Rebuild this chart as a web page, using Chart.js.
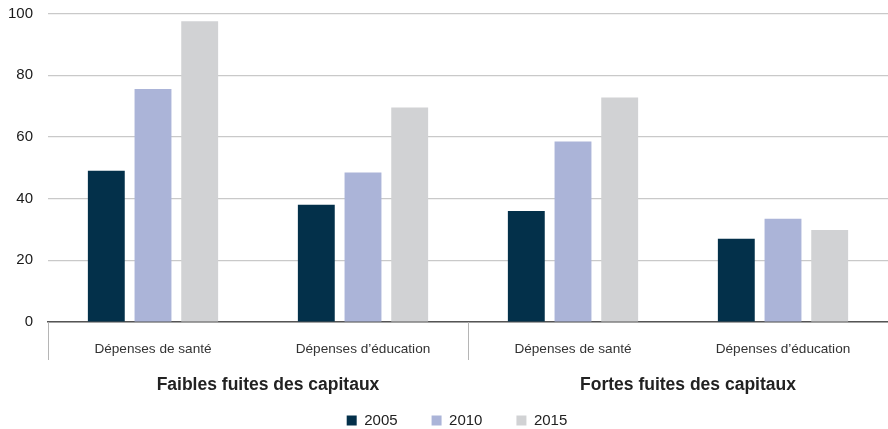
<!DOCTYPE html>
<html>
<head>
<meta charset="utf-8">
<script src="https://cdn.jsdelivr.net/npm/chart.js@4"></script>
<style>
    html, body { margin: 0; padding: 0; background: #fff; }
    #wrap { width: 888px; height: 429px; }
</style>
</head>
<body>
<div id="wrap"><canvas id="flightChart"></canvas></div>
<script>
const categories = ['Dépenses de santé', 'Dépenses d\u2019éducation', 'Dépenses de santé', 'Dépenses d\u2019éducation'];
const groups = ['Faibles fuites des capitaux', 'Fortes fuites des capitaux'];
const years = ['2005', '2010', '2015'];
const values2005 = [49, 38, 36, 27];
const values2010 = [75.5, 48.5, 58.5, 33.5];
const values2015 = [97.5, 69.5, 72.8, 29.8];
const yTicks = [0, 20, 40, 60, 80, 100];

const FONT = "'Liberation Sans', Arial, sans-serif";

// draws the group row under the category labels + the vertical separators
const groupAxis = {
    id: 'groupAxis',
    afterLayout(chart) {
        // legend sits a bit right of the canvas centre and lower than default
        const lg = chart.legend;
        lg.left += 13; lg.right += 13;
        lg.top += 9; lg.bottom += 9;
    },
    afterDraw(chart) {
        const ctx = chart.ctx;
        const x = chart.scales.x;
        const bottom = chart.chartArea.bottom;
        const half = (x.getPixelForValue(1) - x.getPixelForValue(0)) / 2;
        const per = categories.length / groups.length;

        ctx.save();
        ctx.strokeStyle = '#b5b5b5';
        ctx.lineWidth = 1;
        for (let g = 0; g < groups.length; g++) {
            const start = x.getPixelForValue(g * per) - half;
            const end = x.getPixelForValue(g * per + per - 1) + half;
            ctx.beginPath();
            ctx.moveTo(Math.round(start) + 0.5, bottom);
            ctx.lineTo(Math.round(start) + 0.5, bottom + 38);
            ctx.stroke();

            ctx.fillStyle = '#222';
            ctx.font = 'bold 17.5px ' + FONT;
            ctx.textAlign = 'center';
            ctx.textBaseline = 'middle';
            ctx.fillText(groups[g], (start + end) / 2 + 10, bottom + 63);
        }
        ctx.restore();
    }
};

new Chart(document.getElementById('flightChart'), {
    type: 'bar',
    data: {
        labels: categories,
        datasets: [
            { label: years[0], data: values2005, backgroundColor: '#03304a' },
            { label: years[1], data: values2010, backgroundColor: '#abb4d8' },
            { label: years[2], data: values2015, backgroundColor: '#d1d2d4' }
        ]
    },
    options: {
        responsive: true,
        maintainAspectRatio: false,
        animation: false,
        datasets: { bar: { categoryPercentage: 0.667, barPercentage: 0.79 } },
        layout: { padding: { top: 13.5, left: 0, right: 0, bottom: 0 } },
        plugins: {
            legend: {
                position: 'bottom',
                labels: {
                    boxWidth: 10,
                    boxHeight: 10,
                    padding: 34,
                    color: '#222',
                    font: { family: FONT, size: 15 }
                }
            },
            tooltip: { enabled: false }
        },
        scales: {
            x: {
                grid: { display: false, drawTicks: false },
                border: { color: '#555', width: 1.5 },
                ticks: { color: '#333', padding: 19, font: { family: FONT, size: 13.6 } },
                afterFit: scale => { scale.height = 48; }
            },
            y: {
                min: 0,
                max: 100,
                afterBuildTicks: scale => { scale.ticks = yTicks.map(v => ({ value: v })); },
                afterFit: scale => {
                    scale.width = 48;
                    scale.paddingTop = 0;
                    scale.paddingBottom = 0;
                },
                grid: { color: '#c9c9c9', lineWidth: 1.2, drawTicks: false },
                border: { display: false },
                ticks: { color: '#1a1a1a', padding: 15, font: { family: FONT, size: 15 } }
            }
        }
    },
    plugins: [groupAxis]
});
</script>
</body>
</html>
